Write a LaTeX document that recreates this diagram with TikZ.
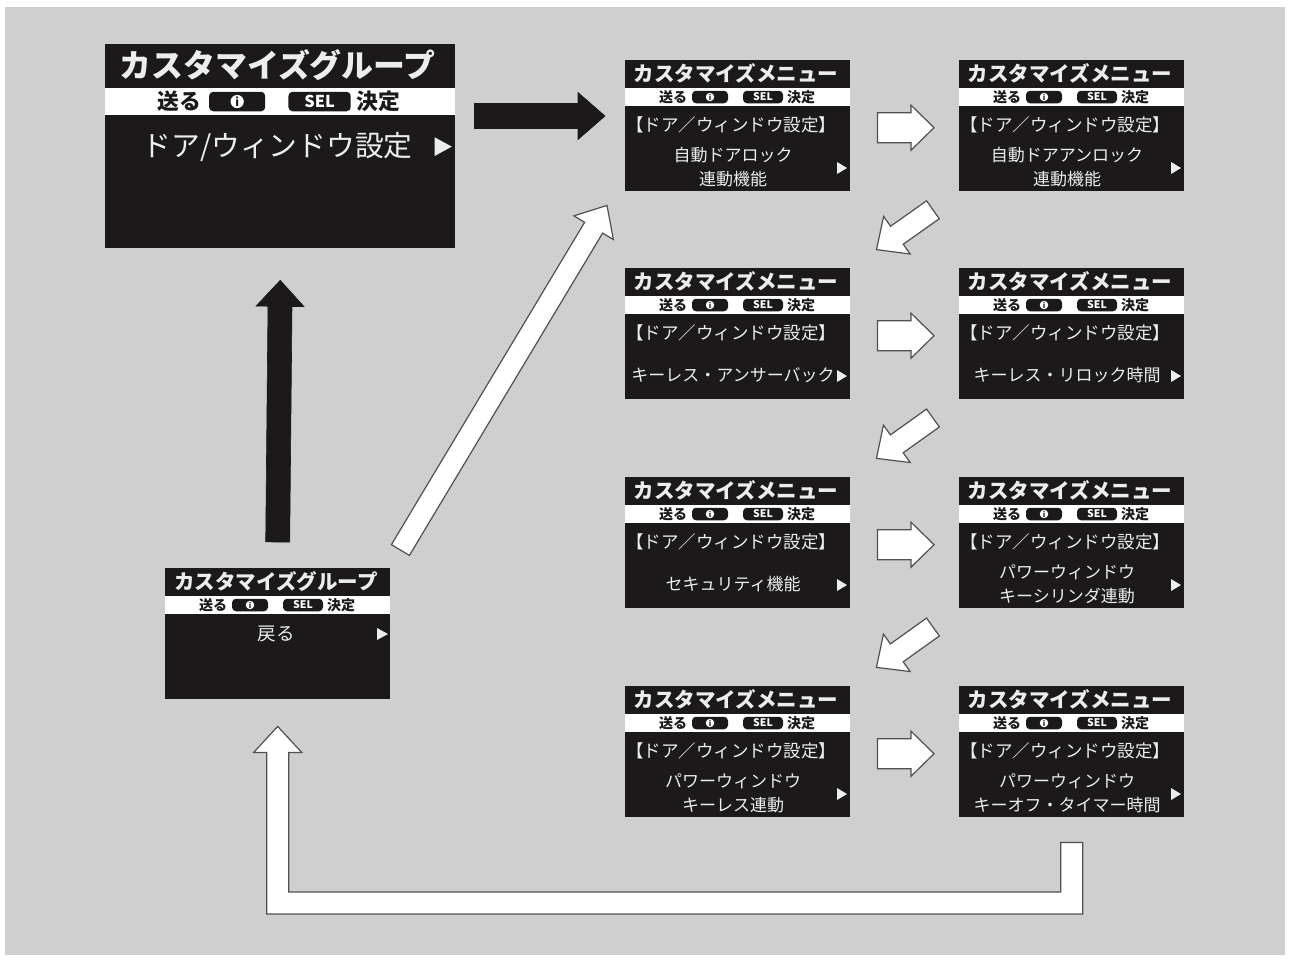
\documentclass[tikz,border=0pt]{standalone}
\usepackage{fontspec}
\setmainfont{Noto Sans CJK JP}
\usetikzlibrary{calc}

\definecolor{panelgray}{HTML}{CFCFCF}
\definecolor{scrblack}{HTML}{1B1919}
\definecolor{scrtext}{HTML}{EDEDED}
\definecolor{arrowline}{HTML}{505050}

\tikzset{
  screen/.style={rectangle, fill=scrblack, minimum width=225pt, minimum height=131pt, anchor=north west, inner sep=0pt},
  titletxt/.style={text=scrtext, font=\bfseries\fontsize{20.5}{20.5}\selectfont, inner sep=0pt},
  bandtxt/.style={text=scrblack, font=\bfseries\fontsize{14}{14}\selectfont, inner sep=0pt},
  pill/.style={fill=scrblack, rounded corners=4pt, minimum height=12.5pt, inner sep=0pt},
  pilltxt/.style={text=white, font=\bfseries\fontsize{10.5}{10.5}\selectfont},
  infodot/.style={circle, fill=white, inner sep=0pt, minimum size=8.5pt, text=scrblack, font=\bfseries\fontsize{7.5}{7.5}\selectfont},
  headtxt/.style={text=scrtext, font=\fontsize{17.5}{17.5}\selectfont, inner sep=0pt},
  bodytxt/.style={text=scrtext, font=\fontsize{17}{24}\selectfont, inner sep=0pt, align=center},
  whitearrow/.style={fill=white, draw=arrowline, line width=1.2pt, line join=miter},
  blackarrow/.style={fill=scrblack, draw=scrblack, line width=0.6pt},
}

% common top part of a display: title bar and button bar
\newcommand{\screenbase}[2]{%
  \node[screen] (#1) at (0,0) {};
  \fill[white] (0,28) rectangle (225,45.5);
  \node[titletxt] (#1-title) at (111,13.5) {#2};
  \node[bandtxt] (#1-send) at (48,37) {送る};
  \node[pill, minimum width=36pt] (#1-i) at (85,37) {};
  \node[infodot] (#1-idot) at (#1-i) {i};
  \node[pill, pilltxt, minimum width=40pt] (#1-sel) at (138,37) {SEL};
  \node[bandtxt] (#1-ok) at (176,37) {決定};
}

% group display: name, top left, scale, item
\newcommand{\groupscreen}[4]{%
  \begin{scope}[shift={#2}, scale=#3, every node/.append style={transform shape}]
    \screenbase{#1}{カスタマイズグループ}
    \node[bodytxt, font=\fontsize{18.5}{18.5}\selectfont] (#1-body) at (111,66) {#4};
    \fill[scrtext] (212,60) -- (223,66) -- (212,72) -- cycle;
  \end{scope}
}

% menu display: name, top left, item
\newcommand{\menuscreen}[3]{%
  \begin{scope}[shift={#2}]
    \screenbase{#1}{カスタマイズメニュー}
    \node[headtxt] (#1-head) at (106,65) {【ドア／ウィンドウ設定】};
    \node[bodytxt] (#1-body) at (108,107.5) {#3};
    \fill[scrtext] (212,102) -- (222,108) -- (212,114) -- cycle;
  \end{scope}
}

% block arrow: style, from, to, half body, half head, head length
\newcommand{\fatarrow}[6][]{%
  \path[#1] ($(#2)!#4!90:(#3)$) -- ($(#3)!#6!(#2)!#4!-90:(#2)$)
    -- ($(#3)!#6!(#2)!#5!-90:(#2)$) -- (#3)
    -- ($(#3)!#6!(#2)!#5!90:(#2)$) -- ($(#3)!#6!(#2)!#4!90:(#2)$)
    -- ($(#2)!#4!-90:(#3)$) -- cycle;
}

\begin{document}
\begin{tikzpicture}[x=1pt, y=-1pt]
  \useasboundingbox (0,0) rectangle (1290,959);
  \fill[white] (0,0) rectangle (1290,959);
  \fill[panelgray] (5,7) rectangle (1285,955);

  % group displays
  \groupscreen{grp1}{(105,44)}{1.555}{ドア/ウィンドウ設定}
  \groupscreen{grp2}{(165,568)}{1}{戻る}

  % menu displays
  \menuscreen{m1}{(625,60)}{自動ドアロック\\連動機能}
  \menuscreen{m2}{(959,60)}{自動ドアアンロック\\連動機能}
  \menuscreen{m3}{(625,268)}{キーレス・アンサーバック}
  \menuscreen{m4}{(959,268)}{キーレス・リロック時間}
  \menuscreen{m5}{(625,477)}{セキュリティ機能}
  \menuscreen{m6}{(959,477)}{パワーウィンドウ\\キーシリンダ連動}
  \menuscreen{m7}{(625,686)}{パワーウィンドウ\\キーレス連動}
  \menuscreen{m8}{(959,686)}{パワーウィンドウ\\キーオフ・タイマー時間}

  % black arrows
  \coordinate (ka) at ($(grp1.north east)+(19,72)$);
  \coordinate (kb) at ($(m1.north west)+(-20,56)$);
  \fatarrow[blackarrow]{ka}{kb}{12.5pt}{23.5pt}{27pt}
  \coordinate (kc) at ($(grp2.north)+(0,-26)$);
  \coordinate (kd) at ($(grp1.south)+(0,32)$);
  \fatarrow[blackarrow]{kc}{kd}{12pt}{24pt}{26pt}

  % white arrows to the right
  \coordinate (r1a) at ($(m1.east)!0.25!(m2.west)+(0,2)$);
  \coordinate (r1b) at ($(m1.east)!0.77!(m2.west)+(0,2)$);
  \fatarrow[whitearrow]{r1a}{r1b}{15pt}{22.5pt}{23pt}
  \coordinate (r2a) at ($(m3.east)!0.25!(m4.west)+(0,2)$);
  \coordinate (r2b) at ($(m3.east)!0.77!(m4.west)+(0,2)$);
  \fatarrow[whitearrow]{r2a}{r2b}{15pt}{22.5pt}{23pt}
  \coordinate (r3a) at ($(m5.east)!0.25!(m6.west)+(0,2)$);
  \coordinate (r3b) at ($(m5.east)!0.77!(m6.west)+(0,2)$);
  \fatarrow[whitearrow]{r3a}{r3b}{15pt}{22.5pt}{23pt}
  \coordinate (r4a) at ($(m7.east)!0.25!(m8.west)+(0,2)$);
  \coordinate (r4b) at ($(m7.east)!0.77!(m8.west)+(0,2)$);
  \fatarrow[whitearrow]{r4a}{r4b}{15pt}{22.5pt}{23pt}

  % white arrows down to the next row
  \coordinate (d1a) at ($(m2.south west)!0.24!(m3.north east)$);
  \coordinate (d1b) at ($(m2.south west)!0.76!(m3.north east)$);
  \fatarrow[whitearrow]{d1a}{d1b}{11pt}{23pt}{25pt}
  \coordinate (d2a) at ($(m4.south west)!0.24!(m5.north east)$);
  \coordinate (d2b) at ($(m4.south west)!0.76!(m5.north east)$);
  \fatarrow[whitearrow]{d2a}{d2b}{11pt}{23pt}{25pt}
  \coordinate (d3a) at ($(m6.south west)!0.24!(m7.north east)$);
  \coordinate (d3b) at ($(m6.south west)!0.76!(m7.north east)$);
  \fatarrow[whitearrow]{d3a}{d3b}{11pt}{23pt}{25pt}

  % back to the first menu
  \coordinate (la) at ($(grp2.north east)+(10,-18)$);
  \coordinate (lb) at ($(m1.south west)+(-18,14)$);
  \fatarrow[whitearrow]{la}{lb}{10.5pt}{23pt}{26pt}

  % return loop from the last menu
  \coordinate (ustart) at ($(m8.south)+(0,25)$);
  \coordinate (uend) at ($(grp2.south)+(0,27)$);
  \coordinate (ubot) at (0,903);
  \path[whitearrow] ($(ustart)+(-11,0)$) -- ($(ustart)+(11,0)$)
    -- ($(ustart |- ubot)+(11,11)$) -- ($(uend |- ubot)+(-11,11)$)
    -- ($(uend)+(-11,26)$) -- ($(uend)+(-24,26)$) -- (uend)
    -- ($(uend)+(24,26)$) -- ($(uend)+(11,26)$)
    -- ($(uend |- ubot)+(11,-11)$) -- ($(ustart |- ubot)+(-11,-11)$) -- cycle;
\end{tikzpicture}
\end{document}
